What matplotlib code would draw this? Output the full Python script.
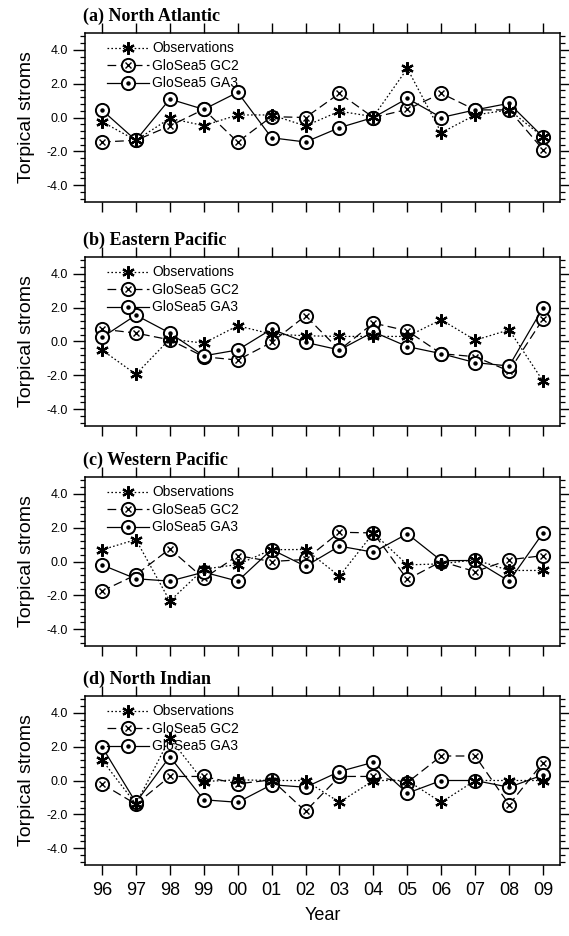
import matplotlib
matplotlib.use('Agg')
import matplotlib.pyplot as plt
from matplotlib.ticker import MultipleLocator
from matplotlib.legend_handler import HandlerTuple

plt.rcParams['font.family'] = ['Liberation Sans', 'DejaVu Sans']

years = ['96', '97', '98', '99', '00', '01', '02', '03', '04', '05', '06', '07', '08', '09']
titles = ['(a) North Atlantic', '(b) Eastern Pacific', '(c) Western Pacific', '(d) North Indian']
labels = ['Observations', 'GloSea5 GC2', 'GloSea5 GA3']

# North Atlantic
obs_na = [-0.25, -1.35, -0.05, -0.48, 0.15, 0.15, -0.5, 0.37, 0.05, 2.9, -0.9, 0.15, 0.45, -1.15]
gc2_na = [-1.45, -1.35, -0.5, 0.48, -1.45, 0.05, 0.0, 1.43, 0.0, 0.48, 1.43, 0.45, 0.45, -1.9]
ga3_na = [0.44, -1.35, 1.09, 0.48, 1.49, -1.2, -1.45, -0.6, 0.0, 1.13, 0.0, 0.45, 0.84, -1.15]
# Eastern Pacific
obs_ep = [-0.5, -1.94, 0.15, -0.1, 0.93, 0.44, 0.34, 0.3, 0.3, 0.3, 1.29, 0.08, 0.69, -2.34]
gc2_ep = [0.73, 0.5, 0.1, -0.9, -1.1, -0.05, 1.52, -0.5, 1.09, 0.63, -0.72, -0.9, -1.75, 1.33]
ga3_ep = [0.24, 1.56, 0.5, -0.85, -0.5, 0.73, -0.05, -0.5, 0.57, -0.3, -0.72, -1.25, -1.45, 2.0]
# Western Pacific
obs_wp = [0.69, 1.3, -2.34, -0.45, -0.18, 0.7, 0.71, -0.87, 1.69, -0.2, -0.14, 0.1, -0.53, -0.53]
gc2_wp = [-1.75, -0.79, 0.75, -1.0, 0.35, 0.0, 0.12, 1.73, 1.69, -1.06, 0.0, -0.6, 0.1, 0.35]
ga3_wp = [-0.2, -1.02, -1.16, -0.63, -1.16, 0.71, -0.28, 0.91, 0.55, 1.64, 0.05, 0.06, -1.16, 1.69]
# North Indian
obs_ni = [1.22, -1.4, 2.49, -0.06, 0.04, 0.0, 0.0, -1.29, 0.0, 0.0, -1.29, 0.0, 0.0, 0.0]
gc2_ni = [-0.2, -1.4, 0.24, 0.24, -0.2, 0.04, -1.82, 0.24, 0.24, -0.12, 1.45, 1.45, -1.43, 1.06]
ga3_ni = [2.0, -1.3, 1.41, -1.14, -1.29, -0.25, -0.4, 0.53, 1.08, -0.75, 0.0, 0.0, -0.4, 0.33]

panels = [(obs_na, gc2_na, ga3_na), (obs_ep, gc2_ep, ga3_ep),
          (obs_wp, gc2_wp, ga3_wp), (obs_ni, gc2_ni, ga3_ni)]

fig = plt.figure(figsize=(5.69, 9.36), dpi=100)
W, H = 569.0, 936.0
box_tops = [33, 257, 477, 696]
x = list(range(len(years)))

for i, (obs, gc2, ga3) in enumerate(panels):
    top = box_tops[i]
    ax = fig.add_axes([85 / W, 1 - (top + 169) / H, 475 / W, 169 / H])

    # GC2: circle with a cross
    l_gc2, = ax.plot(x, gc2, color='k', lw=0.9, dashes=(7, 3.5), marker='o', ms=9.5,
                     mfc='white', mec='k', mew=1.4, zorder=3)
    i_gc2, = ax.plot(x, gc2, ls='none', marker='x', ms=4.5, mec='k', mew=1.0, zorder=3.1)
    # GA3: circle with a dot
    l_ga3, = ax.plot(x, ga3, color='k', lw=0.9, ls='-', marker='o', ms=9.5,
                     mfc='white', mec='k', mew=1.4, zorder=4)
    i_ga3, = ax.plot(x, ga3, ls='none', marker='o', ms=2.2, mfc='k', mec='k', zorder=4.1)
    # observations: asterisk
    l_obs, = ax.plot(x, obs, color='k', lw=0.9, dashes=(1.3, 1.8), marker=(6, 2, 0),
                     ms=9, mec='k', mew=1.6, zorder=5)

    ax.set_xlim(-0.5, 13.5)
    ax.set_ylim(-5, 5)
    ax.set_xticks(x)
    ax.set_yticks([-4, -2, 0, 2, 4])
    ax.set_yticklabels(['-4.0', '-2.0', '0.0', '2.0', '4.0'])
    ax.yaxis.set_minor_locator(MultipleLocator(0.4))
    ax.tick_params(axis='x', which='major', direction='out', length=7, width=1,
                   top=True, bottom=True, labelbottom=(i == 3), labelsize=13, pad=5)
    ax.tick_params(axis='y', which='major', direction='out', length=8.5, width=1,
                   left=True, right=True, labelsize=9, pad=4)
    ax.tick_params(axis='y', which='minor', direction='out', length=3.5, width=0.9,
                   left=True, right=True)
    ax.set_xticklabels(years)
    for sp in ax.spines.values():
        sp.set_linewidth(1.1)

    ax.set_ylabel('Torpical stroms', fontsize=14, labelpad=8)
    ax.text(-0.004, 1.071, titles[i], transform=ax.transAxes, ha='left', va='baseline',
            fontsize=13, fontweight='bold', family=['Liberation Serif', 'DejaVu Serif'])

    ax.legend([l_obs, (l_gc2, i_gc2), (l_ga3, i_ga3)], labels,
              handler_map={tuple: HandlerTuple(ndivide=1, pad=0)},
              loc='upper left', bbox_to_anchor=(0.046, 0.95), frameon=False,
              fontsize=10, handlelength=3.0, handletextpad=0.25, labelspacing=0.25,
              borderpad=0, borderaxespad=0)
    if i == 3:
        ax.set_xlabel('Year', fontsize=13, labelpad=6)

fig.savefig('out.png', dpi=100)
